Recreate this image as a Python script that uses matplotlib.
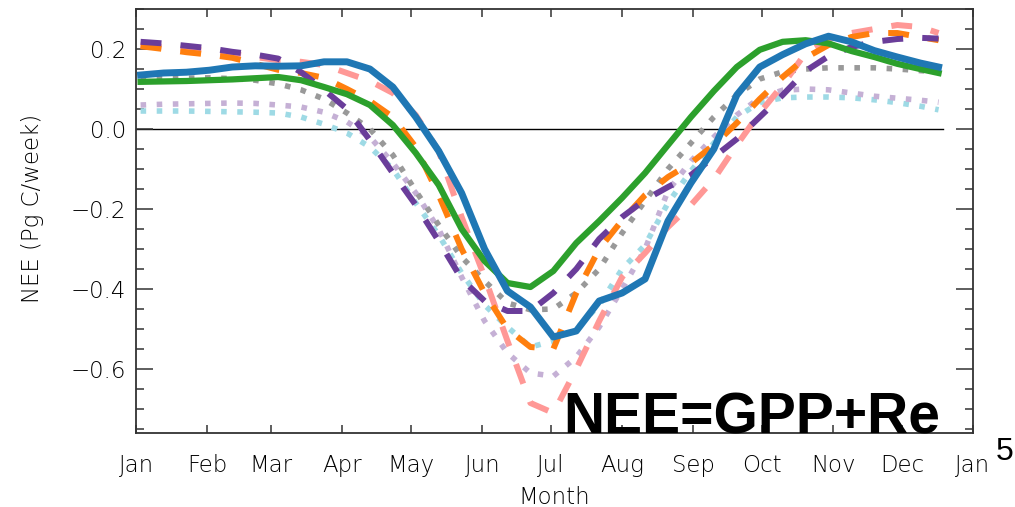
import numpy as np
import matplotlib
matplotlib.use("Agg")
import matplotlib.pyplot as plt
from matplotlib.ticker import MultipleLocator


##--------------------##
## Weekly NEE climatology (Pg C/week), sampled every 10 days
##--------------------##

days = [2, 12, 22, 32, 42, 52, 62, 72, 82, 92, 102, 112, 122, 132, 142, 152, 162, 172,
        182, 192, 202, 212, 222, 232, 242, 252, 262, 272, 282, 292, 302, 312, 322, 332, 342, 350]

nee_blue = [0.135, 0.14, 0.142, 0.147, 0.155, 0.158, 0.157, 0.158, 0.168, 0.168, 0.15, 0.105,
            0.03, -0.055, -0.16, -0.30, -0.405, -0.445, -0.52, -0.505, -0.43, -0.41, -0.375, -0.23,
            -0.135, -0.05, 0.085, 0.155, 0.186, 0.213, 0.232, 0.218, 0.196, 0.18, 0.165, 0.155]

nee_green = [0.118, 0.119, 0.12, 0.122, 0.124, 0.127, 0.13, 0.122, 0.105, 0.087, 0.06, 0.01,
             -0.06, -0.14, -0.25, -0.33, -0.385, -0.395, -0.355, -0.285, -0.23, -0.172, -0.11, -0.04,
             0.03, 0.095, 0.155, 0.198, 0.218, 0.222, 0.214, 0.195, 0.18, 0.163, 0.15, 0.14]

nee_orange = [0.207, 0.2, 0.192, 0.186, 0.178, 0.163, 0.148, 0.14, 0.128, 0.1, 0.07, 0.03,
              -0.045, -0.165, -0.30, -0.41, -0.50, -0.545, -0.55, -0.41, -0.30, -0.228, -0.165, -0.12,
              -0.085, -0.04, 0.015, 0.075, 0.13, 0.178, 0.21, 0.23, 0.24, 0.24, 0.23, 0.222]

nee_purple = [0.218, 0.214, 0.208, 0.202, 0.193, 0.186, 0.176, 0.142, 0.098, 0.05, -0.028, -0.11,
              -0.19, -0.28, -0.375, -0.43, -0.455, -0.455, -0.41, -0.35, -0.275, -0.22, -0.177, -0.145,
              -0.115, -0.07, -0.025, 0.03, 0.085, 0.145, 0.182, 0.205, 0.218, 0.225, 0.228, 0.226]

nee_pink = [0.21, 0.205, 0.2, 0.195, 0.188, 0.18, 0.172, 0.168, 0.16, 0.14, 0.12, 0.09,
            0.035, -0.055, -0.22, -0.37, -0.53, -0.685, -0.71, -0.6, -0.48, -0.37, -0.31, -0.245,
            -0.19, -0.125, -0.04, 0.04, 0.11, 0.19, 0.225, 0.24, 0.25, 0.26, 0.255, 0.24]

nee_gray = [0.125, 0.126, 0.127, 0.128, 0.126, 0.122, 0.113, 0.098, 0.075, 0.04, 0.0, -0.065,
            -0.155, -0.24, -0.32, -0.38, -0.435, -0.452, -0.45, -0.41, -0.35, -0.26, -0.18, -0.1,
            -0.035, 0.03, 0.085, 0.125, 0.143, 0.15, 0.153, 0.153, 0.153, 0.15, 0.146, 0.143]

nee_lilac = [0.06, 0.062, 0.063, 0.064, 0.065, 0.064, 0.06, 0.055, 0.042, 0.018, -0.02, -0.085,
             -0.16, -0.25, -0.37, -0.48, -0.56, -0.61, -0.618, -0.57, -0.495, -0.40, -0.30, -0.155,
             -0.08, -0.02, 0.035, 0.078, 0.097, 0.1, 0.098, 0.09, 0.082, 0.077, 0.072, 0.067]

nee_cyan = [0.045, 0.045, 0.045, 0.044, 0.043, 0.042, 0.04, 0.03, 0.012, -0.01, -0.045, -0.1,
            -0.185, -0.265, -0.36, -0.44, -0.495, -0.545, -0.53, -0.5, -0.44, -0.35, -0.29, -0.185,
            -0.105, -0.035, 0.03, 0.066, 0.078, 0.08, 0.08, 0.078, 0.073, 0.066, 0.057, 0.048]

month_starts = [0, 31, 59, 90, 120, 151, 181, 212, 243, 273, 304, 334, 365]
month_names = ['Jan', 'Feb', 'Mar', 'Apr', 'May', 'Jun', 'Jul',
               'Aug', 'Sep', 'Oct', 'Nov', 'Dec', 'Jan']


##--------------------##
## Figure and axes
##--------------------##

plt.rcParams['font.family'] = ['DejaVu Sans']
plt.rcParams['font.weight'] = 200
plt.rcParams['axes.labelweight'] = 200
label_col = '#000000'

fig = plt.figure(figsize=(10.15, 5.07), dpi=100)
ax = fig.add_axes([0.134, 0.146, 0.8246, 0.8362])

dash = (3.5, 3.2)
dot = (1.0, 1.9)

# background dotted runs first, solid runs on top
ax.plot(days, nee_cyan, color='#9edae5', lw=4.0, ls=(0, dot), dash_capstyle='butt')
ax.plot(days, nee_lilac, color='#c5b0d5', lw=4.0, ls=(0, dot), dash_capstyle='butt')
ax.plot(days, nee_gray, color='#999999', lw=4.0, ls=(0, dot), dash_capstyle='butt')
ax.plot(days, nee_pink, color='#ff9896', lw=4.3, ls=(0, dash), dash_capstyle='butt')
ax.plot(days, nee_orange, color='#ff7f0e', lw=4.3, ls=(0, dash), dash_capstyle='butt')
ax.plot(days, nee_purple, color='#6a3d9a', lw=4.3, ls=(0, dash), dash_capstyle='butt')
ax.plot(days, nee_green, color='#2ca02c', lw=4.5, solid_joinstyle='round')
ax.plot(days, nee_blue, color='#1f77b4', lw=5.0, solid_joinstyle='round')

# zero line across the data period
ax.plot([0, days[-1] + 2], [0, 0], color='black', lw=1.0, zorder=1)

ax.set_xlim(0, 365)
ax.set_ylim(-0.76, 0.30)

ax.set_xticks(month_starts)
ax.set_xticklabels(month_names)
ax.yaxis.set_major_locator(MultipleLocator(0.2))
ax.yaxis.set_minor_locator(MultipleLocator(0.05))
ax.yaxis.set_major_formatter(matplotlib.ticker.FuncFormatter(
    lambda v, p: f"{v:.1f}".replace('-', '\u2212')))

ax.tick_params(which='both', direction='in', top=True, right=True,
               width=1.1, color='#333333', labelsize=16.5, labelcolor=label_col)
ax.tick_params(axis='y', which='major', length=12, pad=7)
ax.tick_params(axis='y', which='minor', length=6)
ax.tick_params(axis='x', which='major', length=6, pad=15)

for s in ax.spines.values():
    s.set_linewidth(1.3)
    s.set_color('#333333')

ax.set_xlabel('Month', fontsize=16.5, color=label_col, fontweight=200)
ax.xaxis.set_label_coords(0.5, -0.125)
ax.xaxis.label.set_va('top')

ax.set_ylabel('NEE (Pg C/week)', fontsize=16.5, color=label_col, fontweight=200)
ax.yaxis.set_label_coords(-0.124, 0.53)
ax.yaxis.label.set_va('center')

# equation annotation and stray panel number
fig.text(563 / 1015, 1 - 433 / 507, 'NEE=GPP+Re', fontsize=41, fontweight='bold',
         family='Liberation Sans', color='black', ha='left', va='baseline', zorder=10)
fig.text(996 / 1015, 1 - 460 / 507, '5', fontsize=23, fontweight='normal',
         family='Liberation Sans', color='black', ha='left', va='baseline')

plt.savefig('out.png', dpi=100)
